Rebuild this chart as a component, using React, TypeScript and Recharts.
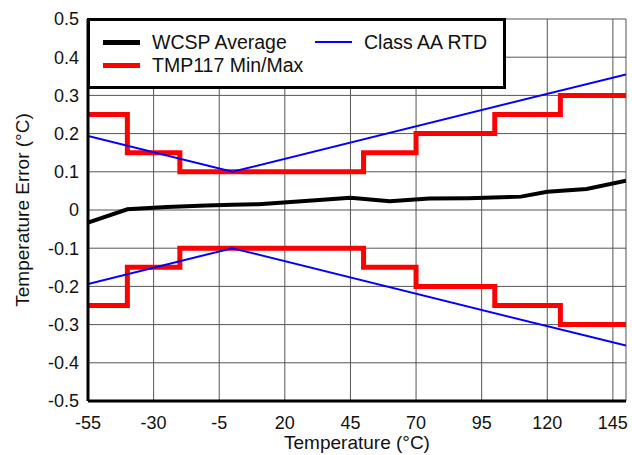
import React from "react";
import { ComposedChart, Line, XAxis, YAxis, CartesianGrid } from "recharts";

const xTicks = [-55, -30, -5, 20, 45, 70, 95, 120, 145];
const yTicks = [-0.5, -0.4, -0.3, -0.2, -0.1, 0, 0.1, 0.2, 0.3, 0.4, 0.5];

// WCSP average error vs temperature
const wcspTemp = [-55, -40, -25, -10, 0, 10, 25, 45, 60, 75, 90, 110, 120, 135, 150];
const wcspAvg = [-0.033, 0.002, 0.008, 0.012, 0.014, 0.015, 0.022, 0.032, 0.023, 0.03, 0.031, 0.035, 0.048, 0.055, 0.077];

// TMP117 min/max limits (step)
const stepTemp = [-55, -40, -20, 50, 70, 100, 125, 150];
const tmpMax = [0.25, 0.15, 0.1, 0.15, 0.2, 0.25, 0.3, 0.3];
const tmpMin = [-0.25, -0.15, -0.1, -0.15, -0.2, -0.25, -0.3, -0.3];

// Class AA RTD tolerance
const rtdTemp = [-55, 0, 150];
const rtdUpper = [0.1935, 0.1, 0.355];
const rtdLower = [-0.1935, -0.1, -0.355];

const toPts = (xs: number[], ys: number[]) => xs.map((x, i) => ({ x, y: ys[i] }));

const font = "'Liberation Sans', Arial, sans-serif";

function LegendBox() {
  const item = (color: string, width: number, label: string, left: number, top: number) => (
    <div style={{ position: "absolute", left, top, display: "flex", alignItems: "center", height: 22 }}>
      <div style={{ width: 37, height: width, background: color, marginRight: 12 }} />
      <span style={{ fontSize: 19.5, color: "#111", whiteSpace: "nowrap" }}>{label}</span>
    </div>
  );
  return (
    <div
      style={{
        position: "absolute",
        left: 87,
        top: 18,
        width: 419,
        height: 71,
        boxSizing: "border-box",
        border: "3px solid #000",
        background: "#fff",
        fontFamily: font,
      }}
    >
      {item("#000", 5, "WCSP Average", 13, 10)}
      {item("#0000ff", 2, "Class AA RTD", 225, 10)}
      {item("#ff0000", 5, "TMP117 Min/Max", 13, 33)}
    </div>
  );
}

export default function App() {
  const tickStyle = { fontSize: 18, fill: "#111", fontFamily: font };
  return (
    <div style={{ position: "absolute", left: 0, top: 0, width: 632, height: 455, background: "#fff" }}>
      <ComposedChart width={632} height={455} margin={{ top: 19, right: 6, bottom: 0, left: 0 }}>
        <CartesianGrid stroke="#555" strokeWidth={1} />
        <XAxis
          dataKey="x"
          type="number"
          domain={[-55, 150]}
          ticks={xTicks}
          allowDataOverflow
          height={54}
          tickLine={false}
          tickSize={0}
          tickMargin={15}
          tick={tickStyle}
          axisLine={{ stroke: "#000", strokeWidth: 3 }}
          label={{ value: "Temperature (°C)", position: "insideBottom", offset: 6, style: { fontSize: 19, fill: "#111", fontFamily: font } }}
        />
        <XAxis
          xAxisId="top"
          orientation="top"
          dataKey="x"
          type="number"
          domain={[-55, 150]}
          height={0}
          tick={false}
          tickLine={false}
          axisLine={{ stroke: "#000", strokeWidth: 3 }}
        />
        <YAxis
          type="number"
          domain={[-0.5, 0.5]}
          ticks={yTicks}
          allowDataOverflow
          width={88}
          tickLine={false}
          tickSize={0}
          tickMargin={9}
          tick={tickStyle}
          tickFormatter={(v: number) => (v === 0 ? "0" : v.toFixed(1))}
          axisLine={{ stroke: "#000", strokeWidth: 3 }}
          label={{ value: "Temperature Error (°C)", angle: -90, position: "insideLeft", offset: 22, style: { textAnchor: "middle", fontSize: 19, fill: "#111", fontFamily: font } }}
        />
        <YAxis
          yAxisId="right"
          orientation="right"
          type="number"
          domain={[-0.5, 0.5]}
          width={0}
          tick={false}
          tickLine={false}
          axisLine={{ stroke: "#000", strokeWidth: 3 }}
        />
        <Line data={toPts(stepTemp, tmpMax)} dataKey="y" type="stepAfter" stroke="#ff0000" strokeWidth={5} dot={false} isAnimationActive={false} />
        <Line data={toPts(stepTemp, tmpMin)} dataKey="y" type="stepAfter" stroke="#ff0000" strokeWidth={5} dot={false} isAnimationActive={false} />
        <Line data={toPts(rtdTemp, rtdUpper)} dataKey="y" type="linear" stroke="#0000ff" strokeWidth={2} dot={false} isAnimationActive={false} />
        <Line data={toPts(rtdTemp, rtdLower)} dataKey="y" type="linear" stroke="#0000ff" strokeWidth={2} dot={false} isAnimationActive={false} />
        <Line data={toPts(wcspTemp, wcspAvg)} dataKey="y" type="linear" stroke="#000" strokeWidth={4} dot={false} isAnimationActive={false} />
      </ComposedChart>
      <LegendBox />
    </div>
  );
}
